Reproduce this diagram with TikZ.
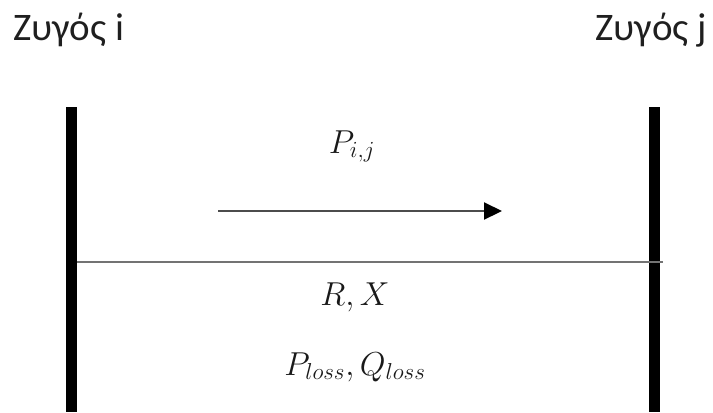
\documentclass[tikz,border=0pt]{standalone}
\usepackage{fontspec}
\newfontfamily\calfont{Carlito}
\usetikzlibrary{arrows.meta}
\DeclareMathSizes{23}{23}{17.5}{13}
\tikzset{
  buslabel/.style={inner sep=0pt, font=\calfont\fontsize{29.25}{34}\selectfont, text=black!88},
  mathlabel/.style={inner sep=0pt, anchor=base, font=\fontsize{23}{28}\selectfont, text=black!90},
  busbar/.style={line width=8.25pt, black},
  linebranch/.style={line width=1.5pt, black!55},
  flowarrow/.style={line width=1.6pt, black!70, -{Triangle[length=13.5pt, width=12.75pt, fill=black, color=black]}}
}
\begin{document}
\begin{tikzpicture}[x=0.75pt, y=-0.75pt]
\useasboundingbox (0,0) rectangle (713,412);
% bus labels
\node[buslabel, anchor=base west] (labi) at (13,40) {Ζυγός i};
\node[buslabel, anchor=base east] (labj) at (707,40) {Ζυγός j};
% bus bars
\coordinate (itop) at (71.5,107);
\coordinate (ibot) at (71.5,412);
\coordinate (jtop) at (654.5,107);
\coordinate (jbot) at (654.5,412);
\draw[busbar] (itop) -- (ibot);
\draw[busbar] (jtop) -- (jbot);
% line between buses
\coordinate (li) at (77,261.5);
\coordinate (lj) at (663,261.5);
\draw[linebranch] (li) -- (lj);
% power flow arrow
\coordinate (a0) at (218,211);
\coordinate (a1) at (502,211);
\draw[flowarrow] (a0) -- (a1);
% labels
\node[mathlabel] (pij) at (352,153) {$P_{i,j}$};
\node[mathlabel] (rx) at (355,305) {$R,X$};
\node[mathlabel] (loss) at (355,375) {$P_{loss}, Q_{loss}$};
\end{tikzpicture}
\end{document}
